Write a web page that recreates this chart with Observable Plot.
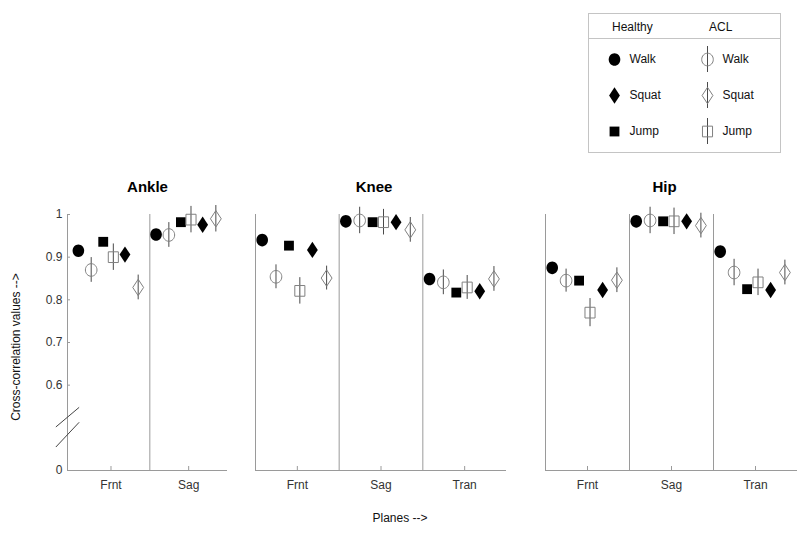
<!DOCTYPE html>
<html><head><meta charset="utf-8">
<script src="https://cdn.jsdelivr.net/npm/d3@7"></script>
<script src="https://cdn.jsdelivr.net/npm/@observablehq/plot@0.6"></script>
<style>
body{margin:0;background:#fff;font-family:"Liberation Sans",Arial,Helvetica,sans-serif;}
#root{position:relative;width:800px;height:537px;overflow:hidden;background:#fff;}
.abs{position:absolute;}
#legend{left:588px;top:13px;width:191px;height:138px;border:1px solid #c4c4c4;}
#legend .hdr{position:absolute;left:0;top:0;width:191px;height:24px;border-bottom:1px solid #c4c4c4;font-size:12px;color:#111;}
#legend .hdr span{position:absolute;top:6px;}
#ylab{left:16px;top:347px;transform:translate(-50%,-50%) rotate(-90deg);font-size:12px;color:#111;white-space:nowrap;}
#xlab{left:400px;top:518px;transform:translate(-50%,-50%);font-size:12px;color:#111;white-space:nowrap;}
</style></head><body><div id="root"></div>
<script>
// ---- data ----
const joints = ["Ankle", "Knee", "Hip"];
const anklePlanes = ["Frnt", "Sag"];
const kneePlanes = ["Frnt", "Sag", "Tran"];
const hipPlanes = ["Frnt", "Sag", "Tran"];
// series order within each plane
const seriesGroup = ["Healthy", "ACL", "Healthy", "ACL", "Healthy", "ACL"];
const seriesTask = ["Walk", "Walk", "Jump", "Jump", "Squat", "Squat"];
const legendGroups = ["Healthy", "ACL"];
const legendTasks = ["Walk", "Squat", "Jump"];
const aclTasks = ["Walk", "Jump", "Squat"];
// mean cross-correlation [plane][series]
const ankleMeans = [
  [0.915, 0.870, 0.936, 0.900, 0.906, 0.829],
  [0.953, 0.952, 0.982, 0.988, 0.976, 0.990]
];
const kneeMeans = [
  [0.940, 0.854, 0.927, 0.821, 0.917, 0.851],
  [0.984, 0.986, 0.982, 0.982, 0.982, 0.964],
  [0.849, 0.841, 0.817, 0.829, 0.820, 0.849]
];
const hipMeans = [
  [0.875, 0.845, 0.845, 0.770, 0.823, 0.846],
  [0.984, 0.986, 0.984, 0.984, 0.984, 0.974],
  [0.913, 0.864, 0.825, 0.841, 0.823, 0.864]
];
// ACL error bar half-length [plane][Walk, Jump, Squat]
const ankleAclErr = [[0.029, 0.031, 0.029], [0.029, 0.031, 0.031]];
const kneeAclErr = [[0.028, 0.031, 0.028], [0.031, 0.030, 0.029], [0.029, 0.028, 0.029]];
const hipAclErr = [[0.027, 0.033, 0.029], [0.031, 0.031, 0.029], [0.031, 0.031, 0.029]];
// y axis ticks
const yTicks = [0.4, 0.6, 0.7, 0.8, 0.9, 1];
const yTickLabels = ["0", "0.6", "0.7", "0.8", "0.9", "1"];
const axisBreak = [{y1: 0.455, y2: 0.513}, {y1: 0.502, y2: 0.548}];

// ---- layout / styles ----
const offsets = [0.08, 0.245, 0.40, 0.53, 0.68, 0.85];
const FONT = '"Liberation Sans", Arial, Helvetica, sans-serif';
const k = 0.5523;
const ellipse = {draw(ctx, size){ const r = Math.sqrt(size/Math.PI), rx = r*0.92, ry = r;
  ctx.moveTo(rx,0); ctx.bezierCurveTo(rx,k*ry,k*rx,ry,0,ry); ctx.bezierCurveTo(-k*rx,ry,-rx,k*ry,-rx,0);
  ctx.bezierCurveTo(-rx,-k*ry,-k*rx,-ry,0,-ry); ctx.bezierCurveTo(k*rx,-ry,rx,-k*ry,rx,0); ctx.closePath(); }};
const rect = {draw(ctx, size){ const r = Math.sqrt(size/Math.PI), w = r*0.8, h = r*0.85;
  ctx.moveTo(-w,-h); ctx.lineTo(w,-h); ctx.lineTo(w,h); ctx.lineTo(-w,h); ctx.closePath(); }};
const rectSolid = {draw(ctx, size){ const r = Math.sqrt(size/Math.PI), w = r*0.78, h = r*0.78;
  ctx.moveTo(-w,-h); ctx.lineTo(w,-h); ctx.lineTo(w,h); ctx.lineTo(-w,h); ctx.closePath(); }};
const diamond = {draw(ctx, size){ const r = Math.sqrt(size/Math.PI), w = r*0.86, h = r*1.3;
  ctx.moveTo(0,-h); ctx.lineTo(w,0); ctx.lineTo(0,h); ctx.lineTo(-w,0); ctx.closePath(); }};
const symbolFor = (task, group) => task === "Walk" ? ellipse : task === "Squat" ? diamond : (group === "Healthy" ? rectSolid : rect);
const R = 6.3;
const LINE = "#9a9a9a";

function rows(planes, means, errs){
  const out = [];
  planes.forEach((plane, p) => seriesGroup.forEach((group, s) => {
    const task = seriesTask[s];
    out.push({p, plane, s, group, task, mean: means[p][s],
      err: group === "ACL" ? errs[p][aclTasks.indexOf(task)] : 0});
  }));
  return out;
}

function markerMarks(data, xOf, yOf){
  const marks = [];
  for (const task of aclTasks) for (const group of legendGroups) {
    const sub = data.filter(d => d.task === task && d.group === group);
    marks.push(Plot.dot(sub, {x: xOf, y: yOf, r: R, symbol: symbolFor(task, group),
      fill: group === "Healthy" ? "#000" : "none", stroke: group === "Healthy" ? "none" : "#808080", strokeWidth: 1}));
  }
  return marks;
}

function jointPlot(name, planes, means, errs, o){
  const data = rows(planes, means, errs);
  const xmin = -(o.pad || 0);
  const marks = [
    Plot.ruleX([xmin, ...d3.range(1, planes.length)], {stroke: LINE}),
    Plot.ruleY([0.4], {stroke: LINE}),
    Plot.axisX(planes.map((d, i) => i + 0.5), {tickFormat: v => planes[Math.floor(v)], tickSize: -4, tickPadding: 14,
      stroke: LINE, fill: "#333", fontSize: 12, label: null}),
    Plot.text([name], {frameAnchor: "top", dy: -33, dx: o.titleDx || 0, fontSize: 15, fontWeight: "bold", fill: "#000"}),
    Plot.ruleX(data.filter(d => d.group === "ACL"), {x: d => d.p + offsets[d.s], y1: d => d.mean - d.err, y2: d => d.mean + d.err, stroke: "#4a4a4a", strokeWidth: 1}),
    ...markerMarks(data, d => d.p + offsets[d.s], "mean")
  ];
  if (o.yAxis) {
    marks.push(Plot.axisY(yTicks, {tickFormat: d => yTickLabels[yTicks.indexOf(d)], tickSize: -3, tickPadding: 8,
      stroke: LINE, fill: "#333", fontSize: 12, label: null}));
    marks.push(Plot.link(axisBreak, {x1: xmin - 0.15, x2: xmin + 0.15, y1: "y1", y2: "y2", stroke: "#444", strokeWidth: 1}));
  }
  return Plot.plot({
    width: o.width, height: 360,
    marginLeft: o.ml, marginRight: o.mr, marginTop: 54, marginBottom: 50,
    x: {domain: [xmin, planes.length]},
    y: o.yAxis ? {domain: [0.4, 1]} : {domain: [0.4, 1], axis: null},
    style: {fontFamily: FONT, fontSize: "12px", background: "transparent", overflow: "visible"},
    marks
  });
}

const root = document.getElementById("root");
function place(node, left, top){ node.classList.add("abs"); node.style.left = left + "px"; node.style.top = top + "px"; root.appendChild(node); return node; }

place(jointPlot(joints[0], anklePlanes, ankleMeans, ankleAclErr, {width: 240, ml: 67, mr: 13, pad: 0.06, yAxis: true}), 0, 160);
place(jointPlot(joints[1], kneePlanes, kneeMeans, kneeAclErr, {width: 280, ml: 15, mr: 14, titleDx: -7}), 240, 160);
place(jointPlot(joints[2], hipPlanes, hipMeans, hipAclErr, {width: 270, ml: 15, mr: 3, titleDx: -7}), 530, 160);

// axis titles
const ylab = document.createElement("div"); ylab.id = "ylab"; ylab.className = "abs"; ylab.textContent = "Cross-correlation values -->"; root.appendChild(ylab);
const xlab = document.createElement("div"); xlab.id = "xlab"; xlab.className = "abs"; xlab.textContent = "Planes -->"; root.appendChild(xlab);

// legend
const legend = document.createElement("div"); legend.id = "legend"; legend.className = "abs"; root.appendChild(legend);
const hdr = document.createElement("div"); hdr.className = "hdr"; legend.appendChild(hdr);
[[legendGroups[0], 23], [legendGroups[1], 120]].forEach(([t, x]) => { const s = document.createElement("span"); s.textContent = t; s.style.left = x + "px"; hdr.appendChild(s); });
const legData = legendGroups.flatMap(group => legendTasks.map(task => ({group, task})));
const legPlot = Plot.plot({
  width: 191, height: 113, margin: 0,
  x: {type: "point", domain: legendGroups, range: [25, 118], padding: 0, axis: null},
  y: {type: "band", domain: legendTasks, range: [2, 110], padding: 0, axis: null},
  style: {fontFamily: FONT, fontSize: "12px", background: "transparent", overflow: "visible"},
  marks: [
    Plot.tickX(legData.filter(d => d.group === "ACL"), {x: "group", y: "task", insetTop: 5, insetBottom: 5, stroke: "#4a4a4a"}),
    ...markerMarks(legData, "group", "task"),
    Plot.text(legData, {x: "group", y: "task", text: "task", dx: 15, textAnchor: "start", fill: "#111", fontSize: 12})
  ]
});
legPlot.style.position = "absolute"; legPlot.style.left = "0px"; legPlot.style.top = "25px";
legend.appendChild(legPlot);
</script></body></html>
